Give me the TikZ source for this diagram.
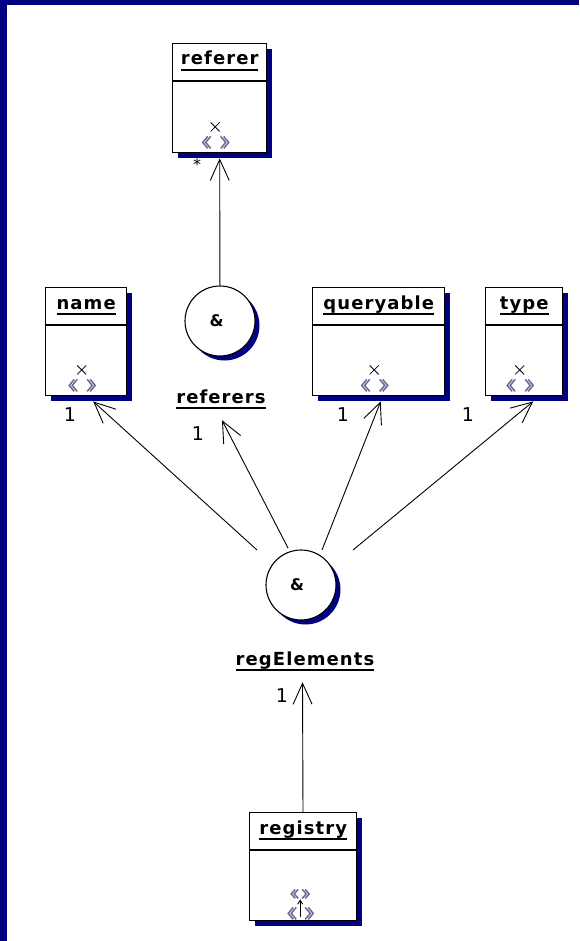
\documentclass[tikz,border=0pt]{standalone}
\usepackage{fontspec}
\newfontfamily\umlfont[LetterSpace=6]{DejaVu Sans}
\newfontfamily\multfont{DejaVu Sans}
\usepackage{tikz}
\usetikzlibrary{arrows.meta,shadows}
\definecolor{navy}{RGB}{0,0,128}
\definecolor{chevron}{RGB}{105,105,150}
\tikzstyle{classbox}=[draw, line width=1.4pt, fill=white, anchor=north west, general shadow={fill=navy, shadow xshift=5pt, shadow yshift=-5pt}]
\tikzstyle{ball}=[circle, draw, line width=1.1pt, fill=white, minimum size=70pt, inner sep=0pt, general shadow={fill=navy, shadow xshift=4.5pt, shadow yshift=-4.5pt}, font=\umlfont\bfseries\fontsize{16}{16}\selectfont]
\tikzstyle{title}=[inner sep=0pt, anchor=base, font=\umlfont\bfseries\fontsize{18}{18}\selectfont]
\tikzstyle{mult}=[inner sep=0pt, font=\multfont\fontsize{19}{19}\selectfont]
\tikzstyle{chev}=[chevron, line width=1.5pt]

\newcommand{\ulname}[1]{\setbox0\hbox{#1}\rlap{\vrule height -4pt depth 6pt width \wd0}\box0}

\newcommand{\ifacemark}[1]{%
  \begin{scope}[shift={(#1)}]
    \draw[line width=0.8pt] (-9,-31) -- (0,-22) (0,-31) -- (-9,-22);
    \draw[chev] (-12,-17) -- (-17,-11) -- (-12,-5) (-9,-17) -- (-14,-11) -- (-9,-5);
    \draw[chev] (1,-17) -- (6,-11) -- (1,-5) (4,-17) -- (9,-11) -- (4,-5);
  \end{scope}}

\newcommand{\rootmark}[1]{%
  \begin{scope}[shift={(#1)}]
    \draw[chev] (-8,-32) -- (-12,-27.5) -- (-8,-23) (-5,-32) -- (-9,-27.5) -- (-5,-23);
    \draw[chev] (-1,-32) -- (3,-27.5) -- (-1,-23) (2,-32) -- (6,-27.5) -- (2,-23);
    \draw[line width=0.9pt, -{Straight Barb[length=4pt,width=5pt]}] (-3,-4) -- (-3,-22);
    \draw[chev] (-10,-14) -- (-15,-8) -- (-10,-2) (-7,-14) -- (-12,-8) -- (-7,-2);
    \draw[chev] (2,-14) -- (7,-8) -- (2,-2) (5,-14) -- (10,-8) -- (5,-2);
  \end{scope}}

\begin{document}
\begin{tikzpicture}[x=1pt, y=-1pt]
\tikzstyle{assoc}=[-{Straight Barb[length=21pt,width=19pt]}, line width=0.9pt]

\useasboundingbox (0,0) rectangle (579,941);
\fill[white] (0,0) rectangle (579,941);
\fill[navy] (0,0) rectangle (7,941);
\fill[navy] (0,0) rectangle (579,5);

% classes
\node[classbox, minimum width=94pt, minimum height=109pt] (referer) at (172,43) {};
\node[classbox, minimum width=81pt, minimum height=108pt] (name) at (45,287) {};
\node[classbox, minimum width=132pt, minimum height=108pt] (queryable) at (312,287) {};
\node[classbox, minimum width=77pt, minimum height=108pt] (type) at (485,287) {};
\node[classbox, minimum width=107pt, minimum height=108pt] (registry) at (249,812) {};

\foreach \c in {referer, name, queryable, type, registry}
  \draw[line width=1.4pt] ([yshift=-38pt]\c.north west) -- ([yshift=-38pt]\c.north east);

\node[title] (refererTitle) at ([yshift=-22pt]referer.north) {\ulname{referer}};
\node[title] (nameTitle) at ([yshift=-22pt]name.north) {\ulname{name}};
\node[title] (queryableTitle) at ([yshift=-22pt]queryable.north) {\ulname{queryable}};
\node[title] (typeTitle) at ([yshift=-22pt]type.north) {\ulname{type}};
\node[title] (registryTitle) at ([yshift=-22pt]registry.north) {\ulname{registry}};

\ifacemark{referer.south}
\ifacemark{name.south}
\ifacemark{queryable.south}
\ifacemark{type.south}
\rootmark{registry.south}

% compositions
\node[ball] (referers) at (220,321) {\&\hspace*{7pt}};
\node[title] (referersLabel) at (221,403) {\ulname{referers}};
\node[ball] (regElements) at (301,585) {\&\hspace*{8pt}};
\node[title] (regElementsLabel) at (305,665) {\ulname{regElements}};

% associations
\draw[assoc] (referers) -- ([shift={(0,5)}]referer.south);
\draw[assoc] ([shift={(-44,-35)}]regElements.center) -- ([shift={(7,5)}]name.south);
\draw[assoc] ([shift={(-13,-37)}]regElements.center) -- ([shift={(1,11)}]referersLabel.south);
\draw[assoc] ([shift={(21,-35)}]regElements.center) -- ([shift={(2,5)}]queryable.south);
\draw[assoc] ([shift={(52,-35)}]regElements.center) -- ([shift={(9,5)}]type.south);
\draw[assoc] (registry) -- ([shift={(-2.5,11)}]regElementsLabel.south);

\node[mult, font=\multfont\fontsize{16}{16}\selectfont, anchor=north] (mStar) at (197,158) {*};
\node[mult] (mName) at (70,415) {1};
\node[mult] (mReferers) at (198,434) {1};
\node[mult] (mQueryable) at (343,415) {1};
\node[mult] (mType) at (468,415) {1};
\node[mult] (mRegElements) at (282,696) {1};

\end{tikzpicture}
\end{document}
